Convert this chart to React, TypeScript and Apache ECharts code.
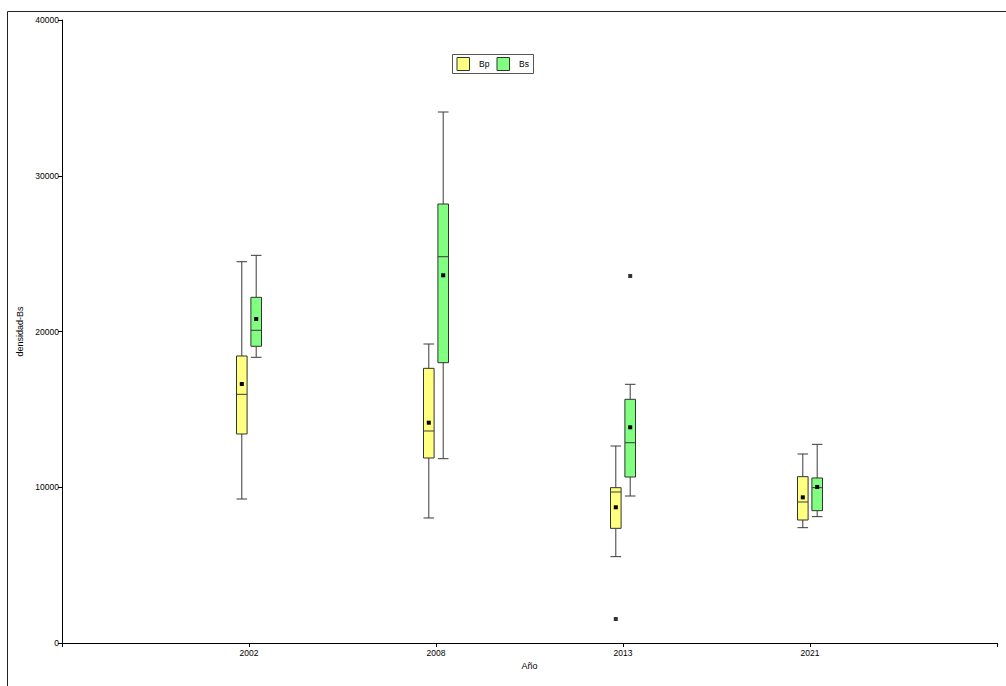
import React, { useEffect, useRef } from "react";
import * as echarts from "echarts";

const years = ["2002", "2008", "2013", "2021"];
// [min, q1, median, q3, max, mean]
const bpStats = [
  [9245, 13419, 15966, 18427, 24480, 16630],
  [8026, 11878, 13612, 17635, 19197, 14145],
  [5543, 7362, 9695, 9973, 12648, 8713],
  [7404, 7897, 9053, 10680, 12135, 9352],
];
const bsStats = [
  [18343, 19050, 20077, 22195, 24890, 20800],
  [11833, 17997, 24802, 28186, 34093, 23608],
  [9438, 10658, 12860, 15647, 16610, 13849],
  [8113, 8497, 9973, 10594, 12755, 10020],
];
// [category index (1-based), value]
const bpOutliers = [[3, 1541]];
const bsOutliers = [[3, 23563]];
const yTicks = [0, 10000, 20000, 30000, 40000];

const FONT = "Liberation Sans, Arial, sans-serif";

function makeBoxSeries(name: string, stats: number[][], off: number, fill: string) {
  return {
    type: "custom",
    name,
    data: stats.map((s, i) => [i + 1, ...s]),
    encode: { x: 0, y: [1, 2, 3, 4, 5] },
    renderItem: (params: any, api: any) => {
      const x = api.value(0);
      const cx = api.coord([x, 0])[0] + off;
      const yv = (v: number) => api.coord([x, v])[1];
      const yMin = yv(api.value(1));
      const yQ1 = yv(api.value(2));
      const yMed = yv(api.value(3));
      const yQ3 = yv(api.value(4));
      const yMax = yv(api.value(5));
      const yMean = yv(api.value(6));
      const hw = 5.3;
      const lineStyle = { stroke: "#3a3a3a", lineWidth: 1 };
      return {
        type: "group",
        children: [
          { type: "line", shape: { x1: cx, y1: yMax, x2: cx, y2: yQ3 }, style: lineStyle },
          { type: "line", shape: { x1: cx, y1: yQ1, x2: cx, y2: yMin }, style: lineStyle },
          { type: "line", shape: { x1: cx - hw, y1: yMax, x2: cx + hw, y2: yMax }, style: lineStyle },
          { type: "line", shape: { x1: cx - hw, y1: yMin, x2: cx + hw, y2: yMin }, style: lineStyle },
          {
            type: "rect",
            shape: { x: cx - hw, y: yQ3, width: hw * 2, height: yQ1 - yQ3 },
            style: { fill, stroke: "#333", lineWidth: 1 },
          },
          { type: "line", shape: { x1: cx - hw, y1: yMed, x2: cx + hw, y2: yMed }, style: lineStyle },
          {
            type: "rect",
            shape: { x: cx - 2, y: yMean - 2, width: 4, height: 4 },
            style: { fill: "#000" },
          },
        ],
      };
    },
    z: 2,
  };
}

export default function App() {
  const ref = useRef<HTMLDivElement>(null);
  useEffect(() => {
    if (!ref.current) return;
    const chart = echarts.init(ref.current, null, { renderer: "svg" });
    chart.setOption({
      animation: false,
      backgroundColor: "#fff",
      textStyle: { fontFamily: FONT },
      grid: { left: 62, top: 20, right: 9, bottom: 43 },
      xAxis: {
        type: "value",
        min: 0,
        max: 5,
        interval: 1,
        name: "Año",
        nameLocation: "middle",
        nameGap: 18,
        nameTextStyle: { fontSize: 9, color: "#000", fontFamily: FONT },
        axisLine: { onZero: false, lineStyle: { color: "#000", width: 1 } },
        axisTick: { show: true, length: 4, lineStyle: { color: "#000" } },
        axisLabel: {
          fontSize: 8.5,
          color: "#000",
          margin: 5,
          fontFamily: FONT,
          formatter: (v: number) => (v >= 1 && v <= years.length ? years[v - 1] : ""),
        },
        splitLine: { show: false },
      },
      yAxis: {
        type: "value",
        min: yTicks[0],
        max: yTicks[yTicks.length - 1],
        interval: 10000,
        name: "densidad-Bs",
        nameLocation: "middle",
        nameGap: 36,
        nameTextStyle: { fontSize: 9, color: "#000", fontFamily: FONT },
        axisLine: { show: true, lineStyle: { color: "#000", width: 1 } },
        axisTick: { show: true, length: 4, lineStyle: { color: "#000" } },
        axisLabel: {
          fontSize: 8.5,
          color: "#000",
          margin: 3,
          fontFamily: FONT,
          formatter: (v: number) => String(v),
        },
        splitLine: { show: false },
      },
      series: [
        makeBoxSeries("Bp", bpStats, -7.2, "#ffff80"),
        makeBoxSeries("Bs", bsStats, 7.2, "#80ff80"),
        {
          type: "scatter",
          name: "Bp outliers",
          data: bpOutliers,
          symbol: "rect",
          symbolSize: 4,
          symbolOffset: [-7.2, 0],
          itemStyle: { color: "#000" },
          z: 3,
        },
        {
          type: "scatter",
          name: "Bs outliers",
          data: bsOutliers,
          symbol: "rect",
          symbolSize: 4,
          symbolOffset: [7.2, 0],
          itemStyle: { color: "#000" },
          z: 3,
        },
      ],
      graphic: [
        {
          type: "rect",
          shape: { x: 7.5, y: 11.5, width: 1010, height: 700 },
          style: { fill: "none", stroke: "#222", lineWidth: 1 },
          silent: true,
        },
        {
          type: "rect",
          shape: { x: 452.5, y: 54.5, width: 81, height: 19 },
          style: { fill: "#fff", stroke: "#555", lineWidth: 1 },
        },
        {
          type: "rect",
          shape: { x: 457, y: 57.5, width: 12.5, height: 13 },
          style: { fill: "#ffff80", stroke: "#333", lineWidth: 1 },
        },
        {
          type: "text",
          x: 479,
          y: 64,
          style: { text: "Bp", fontSize: 8.5, fill: "#000", fontFamily: FONT, verticalAlign: "middle" },
        },
        {
          type: "rect",
          shape: { x: 497, y: 57.5, width: 12.5, height: 13 },
          style: { fill: "#80ff80", stroke: "#333", lineWidth: 1 },
        },
        {
          type: "text",
          x: 519,
          y: 64,
          style: { text: "Bs", fontSize: 8.5, fill: "#000", fontFamily: FONT, verticalAlign: "middle" },
        },
      ],
    });
    return () => chart.dispose();
  }, []);
  return <div ref={ref} style={{ width: 1006, height: 686, position: "absolute", left: 0, top: 0 }} />;
}
